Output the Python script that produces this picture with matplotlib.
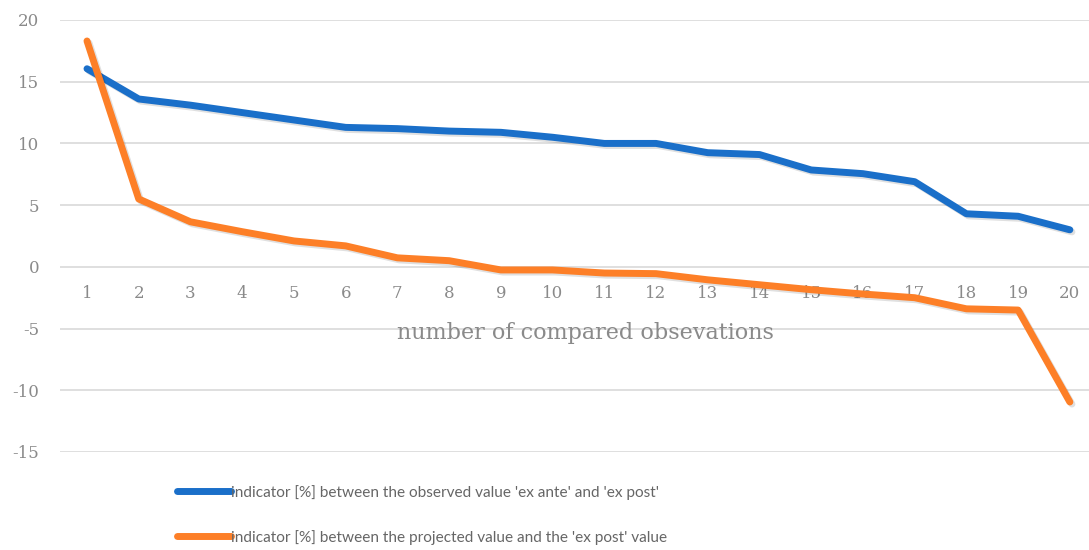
import numpy as np
import matplotlib.pyplot as plt
import matplotlib.patheffects as pe

plt.rcParams["axes.unicode_minus"] = False

observations = list(range(1, 21))
ex_ante_ex_post = [16.05, 13.6, 13.1, 12.5, 11.9, 11.3, 11.2, 11.0, 10.9, 10.5,
                   10.0, 10.0, 9.25, 9.1, 7.85, 7.55, 6.9, 4.3, 4.1, 3.0]
projected_ex_post = [18.3, 5.5, 3.65, 2.85, 2.1, 1.7, 0.73, 0.5, -0.25, -0.25,
                     -0.5, -0.55, -1.05, -1.45, -1.85, -2.2, -2.5, -3.4, -3.5, -10.95]
labels = ["indicator [%] between the observed value 'ex ante' and 'ex post'",
          "indicator [%] between the projected value and the 'ex post' value"]

blue = "#1a6fc9"
orange = "#fd7f27"
grey = "#8a8a8a"
serif = "DejaVu Serif"

fig = plt.figure(figsize=(10.89, 5.5), dpi=100)
ax = fig.add_axes([60 / 1089, 1 - 452 / 550, 1 - 60 / 1089, (452 - 20) / 550])

shadow = [pe.SimpleLineShadow(offset=(1.5, -1.5), alpha=0.12, shadow_color="black"), pe.Normal()]
ax.plot(observations, ex_ante_ex_post, color=blue, lw=5, solid_capstyle="round",
        solid_joinstyle="round", path_effects=shadow, label=labels[0], zorder=3)
ax.plot(observations, projected_ex_post, color=orange, lw=5, solid_capstyle="round",
        solid_joinstyle="round", path_effects=shadow, label=labels[1], zorder=3)

ax.set_ylim(-15, 20)
ax.set_xlim(0.478, 20.37)
ax.set_yticks(np.arange(-15, 21, 5))
ax.set_xticks(observations)
ax.grid(axis="y", color="#d9d9d9", lw=1.2)
ax.grid(axis="x", visible=False)
ax.set_axisbelow(True)

for s in ["top", "right", "left"]:
    ax.spines[s].set_visible(False)
ax.spines["bottom"].set_position(("data", 0))
ax.spines["bottom"].set_visible(False)

ax.tick_params(axis="both", length=0, labelcolor=grey, labelsize=12)
ax.tick_params(axis="x", pad=13)
ax.tick_params(axis="y", pad=15)
for t in ax.get_xticklabels() + ax.get_yticklabels():
    t.set_family(serif)

fig.text(585 / 1089, 1 - 333 / 550, "number of compared obsevations", ha="center",
         va="center", color=grey, fontsize=16, family=serif)

leg = fig.legend(loc="upper left", bbox_to_anchor=(163 / 1089, 1 - 471 / 550),
                 frameon=False, handlelength=3.5, handletextpad=0.0,
                 labelspacing=1.95, prop={"family": ["Lato", "DejaVu Sans"], "size": 11.1})
for t in leg.get_texts():
    t.set_color("#666666")
for h in leg.get_lines():
    h.set_path_effects([])
    h.set_solid_capstyle("round")

fig.savefig("out.png", dpi=100)
